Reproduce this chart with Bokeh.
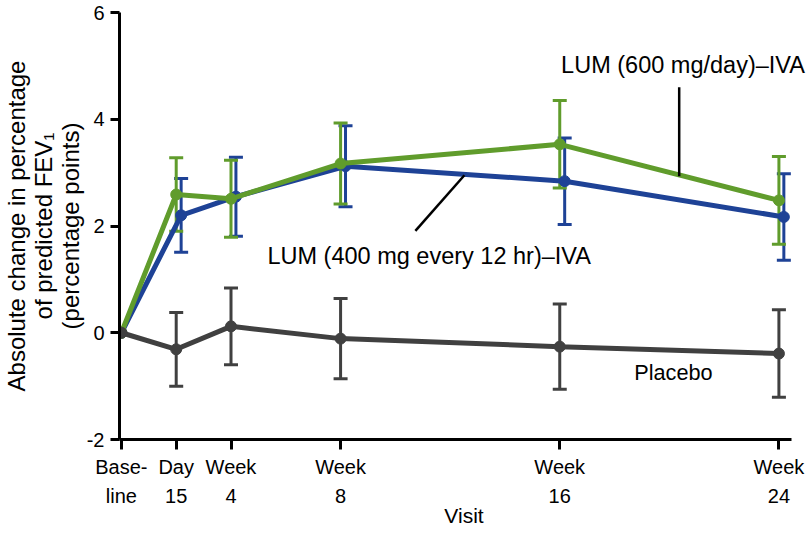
import numpy as np
from bokeh.plotting import figure
from bokeh.models import Range1d, FixedTicker, Whisker, TeeHead, ColumnDataSource, Label
from bokeh.embed import file_html
from bokeh.resources import INLINE

# ---- data ----
visit_weeks = [0, 2, 4, 8, 16, 24]
visit_labels = ["Base-\nline", "Day\n15", "Week\n4", "Week\n8", "Week\n16", "Week\n24"]

placebo_mean = [0.0, -0.31, 0.12, -0.11, -0.26, -0.39]
placebo_err = [0.0, 0.69, 0.72, 0.75, 0.80, 0.82]

lum400_mean = [0.0, 2.20, 2.55, 3.12, 2.84, 2.17]
lum400_err = [0.0, 0.69, 0.74, 0.76, 0.81, 0.81]

lum600_mean = [0.0, 2.59, 2.51, 3.17, 3.53, 2.48]
lum600_err = [0.0, 0.69, 0.72, 0.76, 0.82, 0.82]

y_ticks = [-2, 0, 2, 4, 6]

# ---- styles ----
FONT = "Liberation Sans"
GREEN = "#609c2c"
BLUE = "#1e4296"
GRAY = "#404040"
BLUE_SHIFT = 0.18

p = figure(frame_width=689, frame_height=427,
           x_range=Range1d(-0.07, 25.08), y_range=Range1d(-2, 6),
           output_backend="svg", toolbar_location=None,
           min_border_left=119, min_border_top=12, min_border_right=0,
           background_fill_color="white", border_fill_color="white")
p.outline_line_color = None
p.xgrid.visible = False
p.ygrid.visible = False


def series(weeks, mean, err, color, shift=0.0):
    xs = [w + shift if i > 0 else w for i, w in enumerate(weeks)]
    src = ColumnDataSource(dict(x=xs, y=mean))
    wsrc = ColumnDataSource(dict(
        x=xs[1:],
        upper=[m + e for m, e in zip(mean[1:], err[1:])],
        lower=[m - e for m, e in zip(mean[1:], err[1:])]))
    wh = Whisker(base="x", upper="upper", lower="lower", source=wsrc,
                 line_color=color, line_width=3,
                 upper_head=TeeHead(size=14, line_color=color, line_width=3),
                 lower_head=TeeHead(size=14, line_color=color, line_width=3))
    p.add_layout(wh)
    p.line("x", "y", source=src, line_color=color, line_width=5)
    p.scatter("x", "y", source=src, size=11, fill_color=color, line_color=color)


series(visit_weeks, lum400_mean, lum400_err, BLUE, BLUE_SHIFT)
series(visit_weeks, lum600_mean, lum600_err, GREEN)
series(visit_weeks, placebo_mean, placebo_err, GRAY)

# leader lines
p.segment(x0=[20.36, 10.73], y0=[4.6, 1.91], x1=[20.36, 12.52], y1=[2.93, 2.95],
          line_color="black", line_width=2.5)

for txt, x, y, fs in [("LUM (600 mg/day)\u2013IVA", 16.05, 5.02, "23.5px"),
                      ("LUM (400 mg every 12 hr)\u2013IVA", 5.33, 1.44, "23.5px"),
                      ("Placebo", 18.72, -0.75, "21.7px")]:
    p.add_layout(Label(x=x, y=y, text=txt, text_align="left", text_baseline="middle",
                       text_font=FONT, text_font_size=fs, text_color="black"))

# axes
for ax in (p.xaxis[0], p.yaxis[0]):
    ax.axis_line_width = 3
    ax.axis_line_color = "black"
    ax.major_tick_line_width = 3
    ax.major_tick_line_color = "black"
    ax.major_tick_in = 0
    ax.minor_tick_line_color = None
    ax.major_label_text_font = FONT
    ax.major_label_text_font_size = "20px"
    ax.major_label_text_color = "black"
    ax.axis_label_text_font = FONT
    ax.axis_label_text_font_style = "normal"
    ax.axis_label_text_color = "black"

xa = p.xaxis[0]
xa.ticker = FixedTicker(ticks=visit_weeks)
xa.major_label_overrides = {w: l for w, l in zip(visit_weeks, visit_labels)}
xa.bounds = (-0.07, 24.45)
xa.major_tick_out = 10
xa.major_label_standoff = 6
xa.major_label_text_line_height = 1.35
xa.axis_label = "Visit"
xa.axis_label_text_font_size = "21px"
xa.axis_label_standoff = -6

ya = p.yaxis[0]
ya.ticker = FixedTicker(ticks=y_ticks)
ya.major_label_overrides = {t: str(t) for t in y_ticks}
ya.major_tick_out = 9
ya.major_label_standoff = 6
ya.axis_label = "Absolute change in percentage\nof predicted FEV\u2081\n(percentage points)"
ya.axis_label_text_font_size = "24px"
ya.axis_label_text_line_height = 0.99
ya.axis_label_standoff = 0

open("out.html", "w").write(file_html(p, INLINE))
